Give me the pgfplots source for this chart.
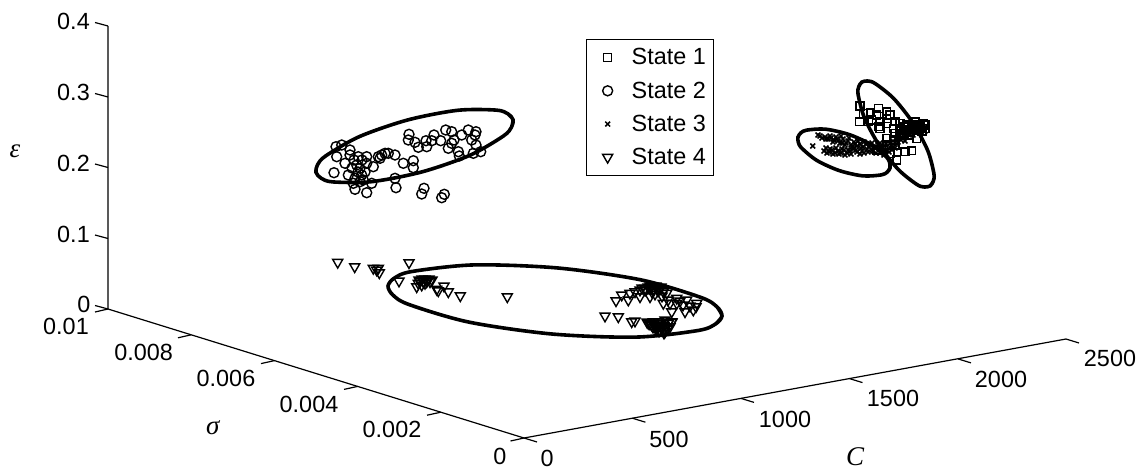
\documentclass[border=0pt]{standalone}
\usepackage{fontspec}
\setmainfont{Liberation Sans}
\newfontfamily\serifit[ItalicFont=Liberation Serif Italic]{Liberation Serif}
\usepackage{pgfplots}
\pgfplotsset{compat=1.18}
\usepackage{pgfplotstable}
\pgfplotsset{ax/.style={forget plot,line width=1.2pt,no marks,black},
  ell/.style={forget plot,line width=3.6pt,smooth,no marks,black}}
\tikzset{lab/.style={font=\fontsize{23.4}{24}\selectfont,inner sep=0pt,anchor=center},
         sym/.style={font=\serifit\itshape\fontsize{27}{27}\selectfont,inner sep=0pt,anchor=center}}
\pgfplotstableread{
x y
860 106
870.7 112.7
878.3 108.3
886.7 111.7
890 115
859.3 121.7
868.3 121.7
876.7 115
880 121.7
886.7 123.3
895 121.7
900 123.3
871.7 120
878.3 126.7
893.3 128.3
900 130
906.7 125
913.3 125
920 125
925 125
906.7 130
913.3 128.3
920 126.7
925 128.3
916.7 138.3
908.3 135
901.7 135
886.7 138.3
893.3 140
886.7 145
895 145
911.7 150.7
905 151.7
896.7 160
890 153.3
883.3 150
876.7 150
880 128.3
886.7 118.3
916.7 130
923.3 123.3
863.3 113.3
895 133.3
905 127
910 132
915 122
918 129
922 131
912 127
904 133
}\stateone
\pgfplotstableread{
x y
336 146.7
341.7 145
336.7 156.7
350 150
345 163.3
358.3 156.7
350 155
356.7 165
366.7 156.7
360 168.3
366.7 163.3
373.3 166.7
378.3 156.7
381.7 155
388.3 153.3
395 155
385 153.3
380 158.3
334 172.7
348.3 175
355 178.3
361.7 175
363.3 180
371.7 183.3
355 189.3
366.7 192.7
360 181.7
353.3 183.3
395 178.3
396 187.7
403.3 163.3
413.3 160.7
413.3 167.7
409 134.3
408.3 140
415 142.3
418.3 147.3
426.7 146.7
426 140.7
434 135
431.7 140.7
440.7 140.7
445.7 130
451.7 131.7
454 140
451.7 143.3
448.3 148.3
458.3 151.7
459.3 156
461.7 135
468.3 130
476 131.7
475 135
471.7 140
476 145
473.3 153.3
480.7 151.7
424 188.3
421.7 194
444.3 194.3
441.7 197.7
354 160
358 172
352 168
362 160
365 172
}\statetwo
\pgfplotstableread{
x y
812.7 146
820 136
822 138
825 137
828 139
831 138
834 140
836 137
838 141
841 136
843 139
824 151
826 148
829 152
832 150
835 153
838 151
841 153
844 150
847 153
850 151
853 149
856 150
842 143
845 145
848 141
851 145
854 142
857 146
860 144
863 147
866 144
869 147
872 143
875 148
878 145
881 149
884 146
887 150
890 147
862 151
868 152
872 150
876 153
880 153
884 155
890 143
893 141
896 139
899 136
902 133
905 135
908 131
911 133
914 129
917 127
920 130
923 127
925 131
893 147
897 144
901 140
905 141
818 135
826 139
830 136
833 142
837 139
840 143
846 143
849 138
852 147
855 144
858 141
861 148
864 142
867 149
870 145
873 151
877 147
880 143
883 151
886 144
889 152
892 150
895 148
898 142
901 137
904 130
907 134
910 128
913 135
916 131
919 124
922 133
925 127
827 153
830 149
833 154
836 148
839 154
842 149
845 155
848 150
851 154
854 148
857 152
860 154
864 153
}\statethree
\pgfplotstableread{
x y
337.7 262.3
354.7 266.7
373.3 268.3
376.7 270
379.3 272.7
378.3 268.3
409 262.7
399 281
416.7 286.7
418.3 283.3
420 281.7
423.3 281.7
426.7 281.7
430 281.7
425 283.3
421.7 285
427.3 280
436.7 289.3
438.3 290.7
444 286
448.3 291.7
460.3 295.7
507.3 296.7
616 300.7
621.7 295
628.3 300
630 293.3
635 291.7
640 296.7
640 290
645 288.3
650 288.3
653.3 290
650 296.7
657.3 288.3
663.3 291.7
663.3 303.3
670 303.3
671.7 311.7
666.7 293.3
676.7 298.3
676.7 303.3
685 311.7
686.7 300
693.3 310
696.7 303.3
696 306.7
605 316
618.3 316.7
631.7 321.7
635 321
648.3 323.3
651.7 325
655 326.7
658.3 325
661.7 326.7
665 328.3
668.3 323.3
671.7 321.7
665 320
658.3 321.7
653.3 321.7
670 326.7
665 331.7
656.7 328.3
660 330
645 290
648 287
652 292
656 286
660 289
655 294
662 296
668 300
680 301
683 305
690 306
647 322
650 324
654 323
657 326
660 323
663 325
666 327
669 322
672 322
668 328
664 333
662 329
659 331
653 327
656 329
642 288
646 290
650 286
654 289
658 291
661 287
664 290
419 280
422 279
425 279
429 279
432 280
}\statefour
\begin{document}
\begin{tikzpicture}
\useasboundingbox (0,0) rectangle (1143pt,471pt);
\begin{axis}[
  at={(0,0)},anchor=south west,
  scale only axis,width=1143pt,height=471pt,
  xmin=0,xmax=1143,ymin=0,ymax=471,y dir=reverse,
  axis lines=none,clip=false,
  legend cell align=left,
  legend image code/.code={\path[draw=none,fill=none] (0pt,0pt) rectangle (37pt,0pt);
    \draw[#1] plot coordinates {(15pt,0pt)};},
  legend style={at={(axis cs:586,39)},anchor=north west,draw=black,line width=1.3pt,
    font=\fontsize{23.4}{24}\selectfont,inner xsep=6pt,inner ysep=7pt,
    nodes={inner sep=2pt},row sep=11.4pt},
  every axis plot/.append style={black},
]
% axes
\addplot[ax] coordinates {(108,26) (108,309) (524,438) (1066,339)};
% z ticks
\addplot[ax] coordinates {(95,22.5) (108,26)};
\addplot[ax] coordinates {(95,93.5) (108,97)};
\addplot[ax] coordinates {(95,164) (108,167.5)};
\addplot[ax] coordinates {(95,235) (108,238.5)};
\addplot[ax] coordinates {(95,305.5) (108,309)};
% sigma ticks
\addplot[ax] coordinates {(95,312) (108,309)};
\addplot[ax] coordinates {(178,337.8) (191.2,334.8)};
\addplot[ax] coordinates {(261,363.6) (274.4,360.6)};
\addplot[ax] coordinates {(344,389.4) (357.6,386.4)};
\addplot[ax] coordinates {(427,415.2) (440.8,412.2)};
\addplot[ax] coordinates {(510.5,441) (524,438)};
% C ticks
\addplot[ax] coordinates {(524,438) (537,442)};
\addplot[ax] coordinates {(632.4,418.2) (645.4,422.2)};
\addplot[ax] coordinates {(741,398.4) (754,402.4)};
\addplot[ax] coordinates {(849.5,378.6) (862.5,382.6)};
\addplot[ax] coordinates {(958,358.9) (971,362.9)};
\addplot[ax] coordinates {(1066,339) (1079,343)};
% data
\addplot[only marks,mark=square,mark size=3.9pt,mark options={line width=1.4pt}] table[x=x,y=y] {\stateone};
\addlegendentry{State 1}
\addplot[only marks,mark=o,mark size=5pt,mark options={line width=1.4pt}] table[x=x,y=y] {\statetwo};
\addlegendentry{State 2}
\addplot[only marks,mark=x,mark size=3.4pt,mark options={line width=1.5pt}] table[x=x,y=y] {\statethree};
\addlegendentry{State 3}
\addplot[only marks,mark=triangle,mark size=5.8pt,mark options={line width=1.4pt,rotate=180}] table[x=x,y=y] {\statefour};
\addlegendentry{State 4}
% ellipses (each path runs past its start, so that the join stays round)
\addplot[ell] coordinates {(507.9,113.8) (513,119.6) (511.5,127.2) (503.3,136.1) (469.85,155.3) (421.5,172) (371.35,181.7) (332.7,181.9) (321.1,178.2) (316,172.4) (317.5,164.8) (325.7,155.9) (359.15,136.7) (407.5,120) (457.65,110.3) (496.3,110.1) (507.9,113.8) (513,119.6) (511.5,127.2)};
\addplot[ell] coordinates {(924.4,187) (930,186) (933.2,181.4) (933.9,173.5) (927.7,150.5) (913,123) (893.7,98.5) (875.1,83.5) (867.6,81) (862,82) (858.8,86.6) (858.1,94.5) (864.3,117.5) (879,145) (898.3,169.5) (916.9,184.5) (924.4,187) (930,186) (933.2,181.4)};
\addplot[ell] coordinates {(889.7,162.8) (890,168) (887.1,172.2) (881.3,174.9) (862.7,175.85) (839,170.5) (816.7,160.35) (801.7,148.1) (798.3,142.2) (798,137) (800.9,132.8) (806.7,130.1) (825.3,129.15) (849,134.5) (871.3,144.65) (886.3,156.9) (889.7,162.8) (890,168) (887.1,172.2)};
\addplot[ell] coordinates {(717.1,307) (722,316) (715.5,324) (698.1,330.5) (635.9,337.1) (552,334) (468.9,322.1) (408.9,304.5) (392.9,295) (388,286) (394.5,278) (411.9,271.5) (474.1,264.9) (558,268) (641.1,279.9) (701.1,297.5) (717.1,307) (722,316) (715.5,324)};
% tick labels
\node[lab] at (axis cs:73.5,21) {0.4};
\node[lab] at (axis cs:73.5,92) {0.3};
\node[lab] at (axis cs:73.5,163) {0.2};
\node[lab] at (axis cs:73.5,234) {0.1};
\node[lab] at (axis cs:84,304) {0};
\node[lab] at (axis cs:66,326) {0.01};
\node[lab] at (axis cs:143.7,352) {0.008};
\node[lab] at (axis cs:226,378) {0.006};
\node[lab] at (axis cs:309,404) {0.004};
\node[lab] at (axis cs:392,429) {0.002};
\node[lab] at (axis cs:500,456) {0};
\node[lab] at (axis cs:547,458) {0};
\node[lab] at (axis cs:669,439) {500};
\node[lab] at (axis cs:785,419) {1000};
\node[lab] at (axis cs:893,398) {1500};
\node[lab] at (axis cs:1001,379) {2000};
\node[lab] at (axis cs:1110,358) {2500};
\node[sym] at (axis cs:212.7,428) {σ};
\node[sym] at (axis cs:855,457) {C};
\node[sym] at (axis cs:15,151) {ε};
\end{axis}
\end{tikzpicture}
\end{document}
